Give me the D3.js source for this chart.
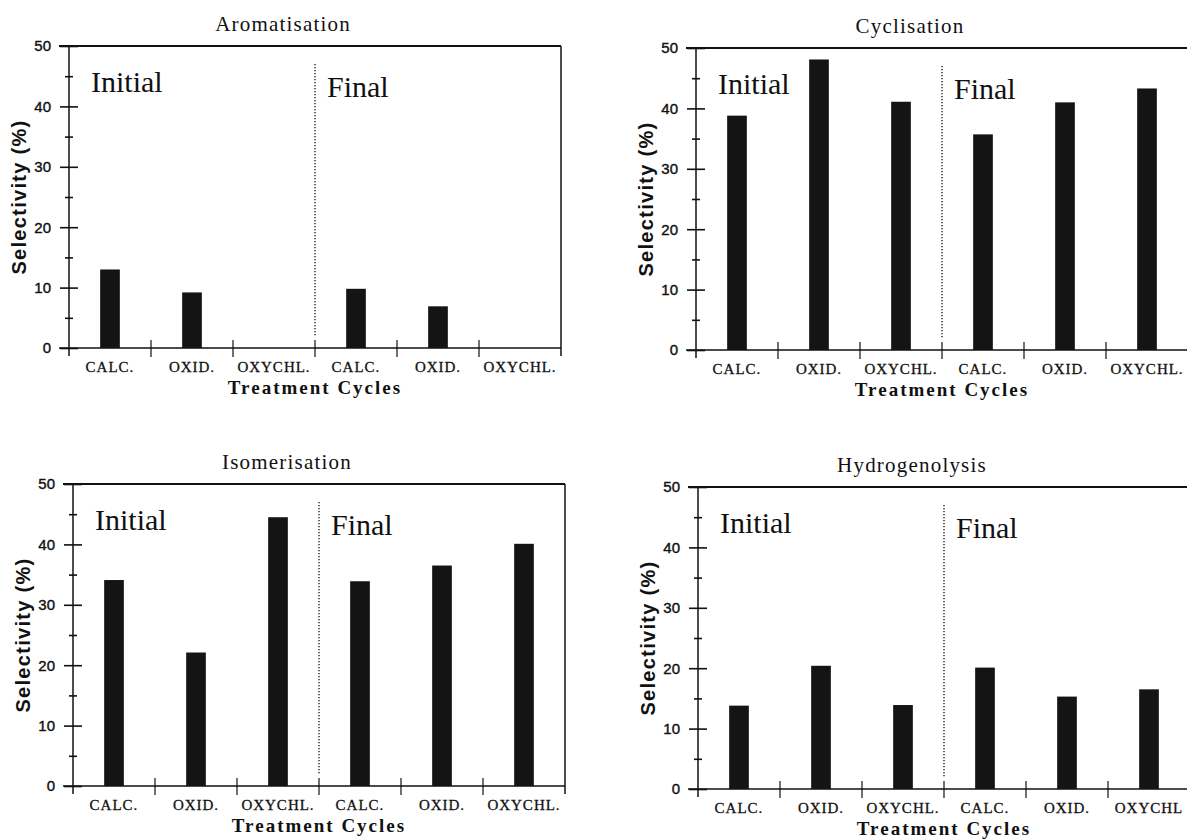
<!DOCTYPE html>
<html>
<head>
<meta charset="utf-8">
<script src="https://cdn.jsdelivr.net/npm/d3@7"></script>
<style>
  body { margin: 0; background: #fff; }
  svg { display: block; }
</style>
</head>
<body>
<div id="chart"></div>
<script>
// selectivity values, one array per panel
const TITLES = ["Aromatisation", "Cyclisation", "Isomerisation", "Hydrogenolysis"]
const AROMATISATION = [13.0, 9.2, 0, 9.8, 6.9, 0]
const CYCLISATION = [38.8, 48.1, 41.1, 35.7, 41.0, 43.3]
const ISOMERISATION = [34.1, 22.1, 44.5, 33.9, 36.5, 40.1]
const HYDROGENOLYSIS = [13.8, 20.4, 13.9, 20.1, 15.3, 16.5]
const X_LABELS = ["CALC.", "OXID.", "OXYCHL.", "CALC.", "OXID.", "OXYCHL."]
const X_LABELS_LAST = ["CALC.", "OXID.", "OXYCHL.", "CALC.", "OXID.", "OXYCHL"]
const STAGES = ["Initial", "Final"]
const Y_TICKS = [0, 5, 10, 15, 20, 25, 30, 35, 40, 45, 50]

const SERIES = [AROMATISATION, CYCLISATION, ISOMERISATION, HYDROGENOLYSIS]

// panel frames (left, top), all panels share the same size
const W = 1187, H = 840
const pw = 492, ph = 302
const frames = [
    { left: 69, top: 46, label: X_LABELS, border: true },
    { left: 696, top: 48, label: X_LABELS, border: false },
    { left: 73, top: 484, label: X_LABELS, border: true },
    { left: 698, top: 487, label: X_LABELS_LAST, border: false }
]

const serif = "'Liberation Serif', 'Times New Roman', serif"
const sans = "'Liberation Sans', Arial, sans-serif"
const ink = "#111"

const svg = d3.select("#chart").append("svg")
    .attr("width", W)
    .attr("height", H)

svg.append("rect").attr("width", W).attr("height", H).attr("fill", "#fff")

frames.forEach((f, p) => {
    const values = SERIES[p]
    const g = svg.append("g").attr("transform", `translate(${f.left},${f.top})`)

    const x = d3.scaleBand()
        .domain(d3.range(values.length))
        .range([0, pw])
        .padding(0)

    const y = d3.scaleLinear()
        .domain([0, 50])
        .range([ph, 0])

    // title, a bit left of the middle like the original
    g.append("text")
        .attr("x", pw * 0.435)
        .attr("y", -15)
        .attr("text-anchor", "middle")
        .style("font-family", serif)
        .style("font-size", "21px")
        .style("letter-spacing", "1.2px")
        .attr("fill", ink)
        .text(TITLES[p])

    // y axis, ticks cross the line
    const yAxis = d3.axisLeft(y)
        .tickValues(Y_TICKS)
        .tickFormat(d => d % 10 === 0 ? d : "")

    const ya = g.append("g").call(yAxis)
    ya.select(".domain").remove()
    ya.selectAll(".tick line")
        .attr("x1", d => d % 10 === 0 ? 9 : 4)
        .attr("x2", d => d % 10 === 0 ? -9 : -4)
        .attr("stroke", ink)
        .attr("stroke-width", 1.6)
    ya.selectAll(".tick text")
        .attr("x", -18)
        .style("font-family", sans)
        .style("font-size", "15px")
        .attr("fill", ink)
        .attr("stroke", ink)
        .attr("stroke-width", 0.4)

    g.append("line")
        .attr("x1", 0).attr("x2", 0)
        .attr("y1", 0).attr("y2", ph + 8)
        .attr("stroke", ink).attr("stroke-width", 1.5)

    // top rule and baseline
    g.append("line")
        .attr("x1", -10).attr("x2", f.border ? pw : W - f.left)
        .attr("y1", 0).attr("y2", 0)
        .attr("stroke", ink).attr("stroke-width", 2)
    g.append("line")
        .attr("x1", -10).attr("x2", f.border ? pw : W - f.left)
        .attr("y1", ph).attr("y2", ph)
        .attr("stroke", ink).attr("stroke-width", 1.6)

    if (f.border) {
        g.append("line")
            .attr("x1", pw).attr("x2", pw)
            .attr("y1", 0).attr("y2", ph + 8)
            .attr("stroke", ink).attr("stroke-width", 1.5)
    }

    // category boundary ticks
    g.selectAll(".xtick")
        .data(d3.range(1, values.length))
        .enter().append("line")
        .attr("class", "xtick")
        .attr("x1", d => x(d)).attr("x2", d => x(d))
        .attr("y1", ph - 8).attr("y2", ph + 9)
        .attr("stroke", ink).attr("stroke-width", 1.2)

    // initial / final divider
    const mid = x(values.length / 2)
    g.append("line")
        .attr("x1", mid).attr("x2", mid)
        .attr("y1", 18).attr("y2", ph - 12)
        .attr("stroke", ink).attr("stroke-width", 1.3)
        .attr("stroke-dasharray", "1.2,1.8")

    g.append("text")
        .attr("x", 22).attr("y", 46)
        .style("font-family", serif)
        .style("font-size", "30px")
        .attr("fill", ink)
        .text(STAGES[0])
    g.append("text")
        .attr("x", mid + 12).attr("y", 51)
        .style("font-family", serif)
        .style("font-size", "30px")
        .attr("fill", ink)
        .text(STAGES[1])

    // bars
    const bw = x.bandwidth() * 0.24
    g.selectAll(".bar")
        .data(values)
        .enter().append("rect")
        .attr("class", "bar")
        .attr("x", (d, i) => x(i) + x.bandwidth() / 2 - bw / 2)
        .attr("y", d => y(d))
        .attr("width", bw)
        .attr("height", d => y(0) - y(d))
        .attr("fill", "#141414")

    // category labels
    g.selectAll(".xlab")
        .data(f.label)
        .enter().append("text")
        .attr("class", "xlab")
        .attr("x", (d, i) => x(i) + x.bandwidth() / 2)
        .attr("y", ph + 24)
        .attr("text-anchor", "middle")
        .style("font-family", serif)
        .style("font-size", "15px")
        .style("letter-spacing", "1px")
        .attr("fill", ink)
        .attr("stroke", ink)
        .attr("stroke-width", 0.3)
        .text(d => d)

    g.append("text")
        .attr("x", pw / 2)
        .attr("y", ph + 46)
        .attr("text-anchor", "middle")
        .style("font-family", serif)
        .style("font-size", "19px")
        .style("font-weight", "bold")
        .style("letter-spacing", "2px")
        .attr("fill", ink)
        .text("Treatment Cycles")

    g.append("text")
        .attr("transform", `translate(-50,${ph / 2}) rotate(-90)`)
        .attr("text-anchor", "middle")
        .attr("dominant-baseline", "central")
        .style("font-family", sans)
        .style("font-size", "20px")
        .style("font-weight", "bold")
        .style("letter-spacing", "1.3px")
        .attr("fill", ink)
        .text("Selectivity (%)")
})
</script>
</body>
</html>
